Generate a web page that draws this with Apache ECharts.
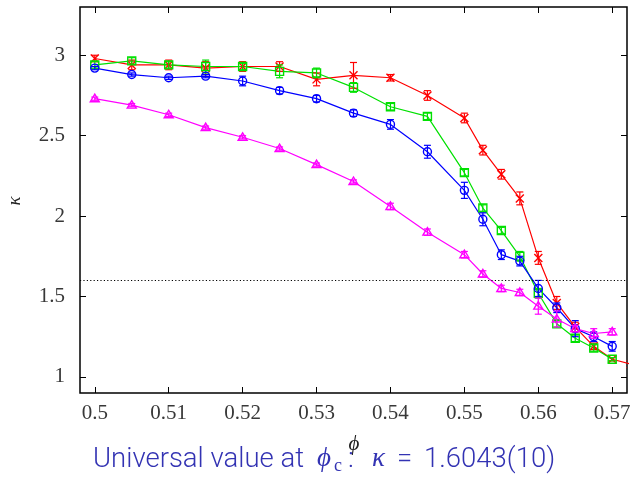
<!DOCTYPE html>
<html>
<head>
<meta charset="utf-8">
<script src="https://cdn.jsdelivr.net/npm/echarts@6/dist/echarts.min.js"></script>
<style>
html,body{margin:0;padding:0;background:#fff;}
#chart{width:637px;height:478px;}
</style>
</head>
<body>
<div id="chart"></div>
<script>
// ---- data ----
const phi = [0.5,0.505,0.51,0.515,0.52,0.525,0.53,0.535,0.54,0.545,0.55,0.5525,0.555,0.5575,0.56,0.5625,0.565,0.5675,0.57];
const phiRed = [0.5,0.505,0.51,0.515,0.52,0.525,0.53,0.535,0.54,0.545,0.55,0.5525,0.555,0.5575,0.56,0.5625,0.565,0.5675,0.57,0.5725];
const kappaRed   = [2.98,2.94,2.94,2.92,2.93,2.93,2.85,2.875,2.86,2.75,2.61,2.41,2.26,2.11,1.74,1.46,1.31,1.19,1.11,1.08];
const errRed     = [0.02,0.03,0.03,0.04,0.03,0.03,0.04,0.08,0.02,0.03,0.03,0.03,0.03,0.04,0.04,0.04,0.03,0.02,0.01,0.01];
const kappaGreen = [2.94,2.965,2.94,2.93,2.93,2.90,2.89,2.80,2.68,2.62,2.27,2.05,1.91,1.75,1.52,1.33,1.24,1.18,1.11];
const errGreen   = [0.02,0.02,0.02,0.04,0.02,0.04,0.03,0.03,0.02,0.02,0.02,0.02,0.02,0.03,0.03,0.02,0.02,0.02,0.01];
const kappaBlue  = [2.92,2.88,2.86,2.87,2.84,2.78,2.73,2.64,2.57,2.40,2.16,1.98,1.76,1.72,1.55,1.43,1.30,1.25,1.19];
const errBlue    = [0.01,0.01,0.01,0.01,0.03,0.02,0.02,0.02,0.03,0.04,0.05,0.04,0.03,0.03,0.05,0.03,0.05,0.03,0.03];
const kappaMag   = [2.73,2.69,2.63,2.55,2.49,2.42,2.32,2.215,2.06,1.90,1.76,1.64,1.55,1.525,1.44,1.36,1.30,1.27,1.28];
const errMag     = [0.01,0.01,0.01,0.01,0.01,0.01,0.01,0.01,0.02,0.02,0.02,0.02,0.02,0.02,0.05,0.05,0.02,0.03,0.02];
const xTicks = [0.5,0.51,0.52,0.53,0.54,0.55,0.56,0.57];
const yTicks = [1,1.5,2,2.5,3];
const kappaUniversal = 1.6043;

// ---- chart ----
const chart = echarts.init(document.getElementById('chart'), null, {renderer:'canvas'});
const tickFont = 'Liberation Serif';
const labelColor = '#383838';
const capColor = '#3333b3';
const serifMath = '"Liberation Serif", "DejaVu Serif"';
const sansFont = '300 27.5px Roboto';

function pairs(xs, ys){ return ys.map((v,i)=>[xs[i], v]); }
function triples(xs, ys, es){ return ys.map((v,i)=>[xs[i], v, es[i]]); }

function makeRender(shape, color){
  return function(params, api){
    const x = api.value(0), y = api.value(1), e = api.value(2);
    const p = api.coord([x,y]);
    const t = api.coord([x,y+e]);
    const b = api.coord([x,y-e]);
    const cap = 3.5, lw = 1.2;
    const st = {stroke:color, lineWidth:lw, fill:'none'};
    const ch = [
      {type:'line', shape:{x1:p[0],y1:t[1],x2:p[0],y2:b[1]}, style:st},
      {type:'line', shape:{x1:p[0]-cap,y1:t[1],x2:p[0]+cap,y2:t[1]}, style:st},
      {type:'line', shape:{x1:p[0]-cap,y1:b[1],x2:p[0]+cap,y2:b[1]}, style:st}
    ];
    const m = 4;
    if (shape==='cross'){
      ch.push({type:'line', shape:{x1:p[0]-m,y1:p[1]-m,x2:p[0]+m,y2:p[1]+m}, style:{stroke:color,lineWidth:1.4}});
      ch.push({type:'line', shape:{x1:p[0]-m,y1:p[1]+m,x2:p[0]+m,y2:p[1]-m}, style:{stroke:color,lineWidth:1.4}});
    } else if (shape==='rect'){
      ch.push({type:'rect', shape:{x:p[0]-m,y:p[1]-m,width:2*m,height:2*m}, style:{stroke:color,lineWidth:1.4,fill:'none'}});
    } else if (shape==='circle'){
      ch.push({type:'circle', shape:{cx:p[0],cy:p[1],r:m}, style:{stroke:color,lineWidth:1.4,fill:'none'}});
    } else {
      ch.push({type:'polygon', shape:{points:[[p[0],p[1]-m-0.5],[p[0]-m-0.5,p[1]+m-1],[p[0]+m+0.5,p[1]+m-1]]}, style:{stroke:color,lineWidth:1.4,fill:'none'}});
    }
    return {type:'group', children:ch};
  };
}

const defs = [
  {name:'red', color:'#ff0000', shape:'cross', x:phiRed, y:kappaRed, e:errRed},
  {name:'green', color:'#00e000', shape:'rect', x:phi, y:kappaGreen, e:errGreen},
  {name:'blue', color:'#0000ff', shape:'circle', x:phi, y:kappaBlue, e:errBlue},
  {name:'magenta', color:'#ff00ff', shape:'triangle', x:phi, y:kappaMag, e:errMag}
];

const series = [];
defs.forEach((d, idx)=>{
  const s = {
    type:'line', name:d.name, data:pairs(d.x,d.y), showSymbol:false, symbol:'none',
    lineStyle:{color:d.color, width:1.2}, clip:true, silent:true, z:2
  };
  if (idx===0){
    s.markLine = {silent:true, symbol:['none','none'], label:{show:false},
      lineStyle:{type:[1.2,2.2], color:'#000', width:1},
      data:[{yAxis:kappaUniversal}]};
  }
  series.push(s);
  series.push({
    type:'custom', name:d.name+'-err', data:triples(d.x,d.y,d.e),
    renderItem:makeRender(d.shape, d.color), clip:true, silent:true, z:3
  });
});

const xFmt = v => String(parseFloat(v.toFixed(3)));
const option = {
  animation:false,
  backgroundColor:'#fff',
  grid:{left:80, right:10, top:7, bottom:85, show:true, borderColor:'#000', borderWidth:1.5, backgroundColor:'transparent'},
  xAxis:[
    {type:'value', min:0.498, max:0.572, position:'bottom',
     axisLine:{show:false}, splitLine:{show:false},
     axisTick:{show:true, inside:true, length:6, customValues:xTicks, lineStyle:{color:'#000', width:1}},
     axisLabel:{customValues:xTicks, formatter:xFmt, fontFamily:tickFont, fontSize:21, color:labelColor, margin:10}},
    {type:'value', min:0.498, max:0.572, position:'top',
     axisLine:{show:false}, splitLine:{show:false},
     axisTick:{show:true, inside:true, length:6, customValues:xTicks, lineStyle:{color:'#000', width:1}},
     axisLabel:{show:false}}
  ],
  yAxis:[
    {type:'value', min:0.9, max:3.3, position:'left',
     axisLine:{show:false}, splitLine:{show:false},
     axisTick:{show:true, inside:true, length:6, customValues:yTicks, lineStyle:{color:'#000', width:1}},
     axisLabel:{customValues:yTicks, formatter:v=>String(v), fontFamily:tickFont, fontSize:21, color:labelColor, margin:15}},
    {type:'value', min:0.9, max:3.3, position:'right',
     axisLine:{show:false}, splitLine:{show:false},
     axisTick:{show:true, inside:true, length:6, customValues:yTicks, lineStyle:{color:'#000', width:1}},
     axisLabel:{show:false}}
  ],
  graphic:[
    {type:'text', x:15, y:201, rotation:Math.PI/2,
     style:{text:'κ', font:'italic 19px ' + serifMath, fill:'#222', align:'center', verticalAlign:'middle'}},
    {type:'text', x:354, y:444,
     style:{text:'ϕ', font:'italic 21px ' + serifMath, fill:'#222', align:'center', verticalAlign:'middle'}},
    {type:'text', left:93, top:446, style:{text:'Universal value at', font:sansFont, fill:capColor}},
    {type:'text', left:317, top:445, style:{text:'ϕ', font:'italic 27px ' + serifMath, fill:capColor}},
    {type:'text', left:334, top:457, style:{text:'c', font:'18px ' + serifMath, fill:capColor}},
    {type:'text', left:348, top:446, style:{text:':', font:sansFont, fill:capColor}},
    {type:'text', left:372, top:445, style:{text:'κ', font:'italic 27px ' + serifMath, fill:capColor}},
    {type:'text', left:397, top:446, style:{text:'=', font:sansFont, fill:capColor}},
    {type:'text', left:424, top:446, style:{text:'1.6043(10)', font:sansFont, fill:capColor}}
  ],
  series:series
};
chart.setOption(option);
</script>
</body>
</html>
